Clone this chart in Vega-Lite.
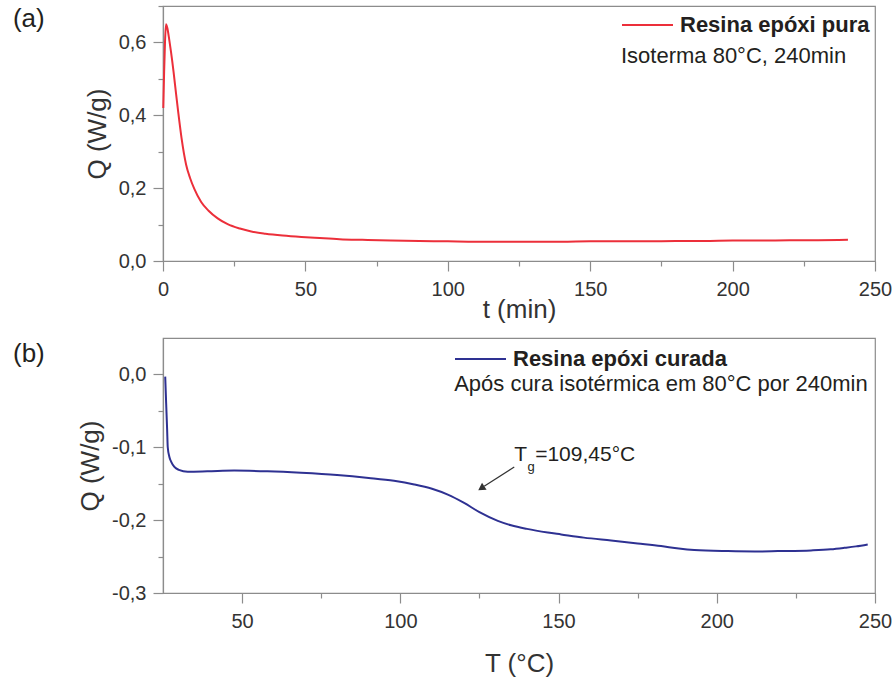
{
  "$schema": "https://vega.github.io/schema/vega-lite/v6.json",
  "background": "white",
  "padding": {"left": 12, "top": -5, "right": 5, "bottom": 5},
  "spacing": 8,
  "config": {
    "font": "Liberation Sans",
    "view": {"stroke": "#8c8c8c", "strokeWidth": 1.2},
    "axis": {
      "grid": false,
      "domainColor": "#8c8c8c",
      "domainWidth": 1.2,
      "tickColor": "#8c8c8c",
      "tickWidth": 1.2,
      "labelFont": "Liberation Sans",
      "titleFont": "Liberation Sans",
      "labelFontSize": 20,
      "titleFontSize": 26,
      "titleFontWeight": "normal",
      "labelColor": "#333333",
      "titleColor": "#333333",
      "labelFlush": false,
      "labelOverlap": false
    },
    "text": {"font": "Liberation Sans", "color": "#231f20"}
  },
  "resolve": {"scale": {"color": "independent"}, "legend": {"color": "independent"}},
  "datasets": {
    "isoterma": [
      {"t": 0.1, "Q": 0.42, "serie": "Resina epóxi pura"},
      {"t": 0.4, "Q": 0.52, "serie": "Resina epóxi pura"},
      {"t": 0.7, "Q": 0.6, "serie": "Resina epóxi pura"},
      {"t": 1.05, "Q": 0.65, "serie": "Resina epóxi pura"},
      {"t": 1.5, "Q": 0.64, "serie": "Resina epóxi pura"},
      {"t": 2.2, "Q": 0.607, "serie": "Resina epóxi pura"},
      {"t": 2.8, "Q": 0.575, "serie": "Resina epóxi pura"},
      {"t": 3.7, "Q": 0.52, "serie": "Resina epóxi pura"},
      {"t": 4.6, "Q": 0.458, "serie": "Resina epóxi pura"},
      {"t": 5.4, "Q": 0.405, "serie": "Resina epóxi pura"},
      {"t": 6.5, "Q": 0.338, "serie": "Resina epóxi pura"},
      {"t": 8.1, "Q": 0.265, "serie": "Resina epóxi pura"},
      {"t": 9.5, "Q": 0.228, "serie": "Resina epóxi pura"},
      {"t": 11, "Q": 0.198, "serie": "Resina epóxi pura"},
      {"t": 13.4, "Q": 0.162, "serie": "Resina epóxi pura"},
      {"t": 16, "Q": 0.138, "serie": "Resina epóxi pura"},
      {"t": 19.2, "Q": 0.117, "serie": "Resina epóxi pura"},
      {"t": 22.7, "Q": 0.101, "serie": "Resina epóxi pura"},
      {"t": 27, "Q": 0.089, "serie": "Resina epóxi pura"},
      {"t": 31, "Q": 0.081, "serie": "Resina epóxi pura"},
      {"t": 36, "Q": 0.075, "serie": "Resina epóxi pura"},
      {"t": 42, "Q": 0.07, "serie": "Resina epóxi pura"},
      {"t": 48.6, "Q": 0.066, "serie": "Resina epóxi pura"},
      {"t": 55, "Q": 0.063, "serie": "Resina epóxi pura"},
      {"t": 62, "Q": 0.06, "serie": "Resina epóxi pura"},
      {"t": 70, "Q": 0.058, "serie": "Resina epóxi pura"},
      {"t": 80, "Q": 0.056, "serie": "Resina epóxi pura"},
      {"t": 90, "Q": 0.055, "serie": "Resina epóxi pura"},
      {"t": 100, "Q": 0.054, "serie": "Resina epóxi pura"},
      {"t": 110, "Q": 0.053, "serie": "Resina epóxi pura"},
      {"t": 120, "Q": 0.053, "serie": "Resina epóxi pura"},
      {"t": 130, "Q": 0.053, "serie": "Resina epóxi pura"},
      {"t": 140, "Q": 0.053, "serie": "Resina epóxi pura"},
      {"t": 150, "Q": 0.054, "serie": "Resina epóxi pura"},
      {"t": 160, "Q": 0.054, "serie": "Resina epóxi pura"},
      {"t": 170, "Q": 0.054, "serie": "Resina epóxi pura"},
      {"t": 180, "Q": 0.055, "serie": "Resina epóxi pura"},
      {"t": 190, "Q": 0.055, "serie": "Resina epóxi pura"},
      {"t": 200, "Q": 0.056, "serie": "Resina epóxi pura"},
      {"t": 210, "Q": 0.056, "serie": "Resina epóxi pura"},
      {"t": 220, "Q": 0.057, "serie": "Resina epóxi pura"},
      {"t": 230, "Q": 0.057, "serie": "Resina epóxi pura"},
      {"t": 240.5, "Q": 0.058, "serie": "Resina epóxi pura"}
    ],
    "curada": [
      {"T": 25.7, "Q": -0.003, "serie": "Resina epóxi curada"},
      {"T": 26.0, "Q": -0.04, "serie": "Resina epóxi curada"},
      {"T": 26.3, "Q": -0.075, "serie": "Resina epóxi curada"},
      {"T": 26.5, "Q": -0.1, "serie": "Resina epóxi curada"},
      {"T": 27.0, "Q": -0.113, "serie": "Resina epóxi curada"},
      {"T": 27.6, "Q": -0.12, "serie": "Resina epóxi curada"},
      {"T": 28.6, "Q": -0.127, "serie": "Resina epóxi curada"},
      {"T": 30.0, "Q": -0.131, "serie": "Resina epóxi curada"},
      {"T": 32.8, "Q": -0.1335, "serie": "Resina epóxi curada"},
      {"T": 39, "Q": -0.133, "serie": "Resina epóxi curada"},
      {"T": 47.5, "Q": -0.132, "serie": "Resina epóxi curada"},
      {"T": 58, "Q": -0.133, "serie": "Resina epóxi curada"},
      {"T": 68.6, "Q": -0.135, "serie": "Resina epóxi curada"},
      {"T": 80, "Q": -0.138, "serie": "Resina epóxi curada"},
      {"T": 90, "Q": -0.142, "serie": "Resina epóxi curada"},
      {"T": 98, "Q": -0.146, "serie": "Resina epóxi curada"},
      {"T": 104.4, "Q": -0.151, "serie": "Resina epóxi curada"},
      {"T": 110, "Q": -0.157, "serie": "Resina epóxi curada"},
      {"T": 115, "Q": -0.165, "serie": "Resina epóxi curada"},
      {"T": 120, "Q": -0.176, "serie": "Resina epóxi curada"},
      {"T": 125, "Q": -0.189, "serie": "Resina epóxi curada"},
      {"T": 130.8, "Q": -0.201, "serie": "Resina epóxi curada"},
      {"T": 135, "Q": -0.207, "serie": "Resina epóxi curada"},
      {"T": 140, "Q": -0.212, "serie": "Resina epóxi curada"},
      {"T": 146.6, "Q": -0.217, "serie": "Resina epóxi curada"},
      {"T": 150.8, "Q": -0.2196, "serie": "Resina epóxi curada"},
      {"T": 158, "Q": -0.224, "serie": "Resina epóxi curada"},
      {"T": 166.6, "Q": -0.228, "serie": "Resina epóxi curada"},
      {"T": 175, "Q": -0.232, "serie": "Resina epóxi curada"},
      {"T": 182.4, "Q": -0.2356, "serie": "Resina epóxi curada"},
      {"T": 188, "Q": -0.239, "serie": "Resina epóxi curada"},
      {"T": 192.9, "Q": -0.241, "serie": "Resina epóxi curada"},
      {"T": 203.5, "Q": -0.2425, "serie": "Resina epóxi curada"},
      {"T": 212, "Q": -0.243, "serie": "Resina epóxi curada"},
      {"T": 219.3, "Q": -0.2425, "serie": "Resina epóxi curada"},
      {"T": 229.8, "Q": -0.2415, "serie": "Resina epóxi curada"},
      {"T": 236, "Q": -0.24, "serie": "Resina epóxi curada"},
      {"T": 240.3, "Q": -0.238, "serie": "Resina epóxi curada"},
      {"T": 244, "Q": -0.236, "serie": "Resina epóxi curada"},
      {"T": 247.7, "Q": -0.2333, "serie": "Resina epóxi curada"}
    ]
  },
  "vconcat": [
    {
      "width": 712,
      "height": 255,
      "encoding": {
        "x": {
          "field": "t", "type": "quantitative",
          "scale": {"domain": [0, 250], "nice": false, "zero": false},
          "axis": {
            "title": "t (min)",
            "values": [0, 25, 50, 75, 100, 125, 150, 175, 200, 225, 250],
            "labelExpr": "datum.value % 50 === 0 ? datum.label : ''",
            "tickSize": {"condition": {"test": "datum.value % 50 === 0", "value": 10}, "value": 5},
            "labelPadding": 8,
            "titlePadding": -3
          }
        },
        "y": {
          "field": "Q", "type": "quantitative",
          "scale": {"domain": [0, 0.7], "nice": false, "zero": false},
          "axis": {
            "title": "Q (W/g)",
            "values": [0, 0.1, 0.2, 0.3, 0.4, 0.5, 0.6, 0.7],
            "labelExpr": "round(datum.value * 10) % 2 === 0 && datum.value < 0.65 ? replace(format(datum.value, '.1f'), '.', ',') : ''",
            "tickSize": {"condition": {"test": "round(datum.value * 10) % 2 === 0", "value": 10}, "value": 5},
            "labelPadding": 7,
            "titlePadding": 8
          }
        }
      },
      "layer": [
        {
          "data": {"name": "isoterma"},
          "mark": {"type": "line", "strokeWidth": 2, "interpolate": "monotone"},
          "encoding": {
            "color": {
              "field": "serie", "type": "nominal",
              "scale": {"domain": ["Resina epóxi pura"], "range": ["#ec2f3a"]},
              "legend": {
                "title": null, "orient": "none", "legendX": 458, "legendY": -7.5,
                "symbolType": "stroke", "symbolSize": 2600, "symbolStrokeWidth": 2,
                "labelFontSize": 22, "labelFontWeight": "bold", "labelColor": "#231f20",
                "labelFont": "Liberation Sans",
                "labelOffset": 6, "labelLimit": 600, "padding": 0
              }
            }
          }
        },
        {
          "data": {"values": [{"t": 160.8, "Q": 0.5435, "texto": "Isoterma 80°C, 240min"}]},
          "mark": {"type": "text", "fontSize": 22, "align": "left", "baseline": "alphabetic"},
          "encoding": {"text": {"field": "texto"}}
        },
        {
          "data": {"values": [{"t": -52.7, "Q": 0.663, "texto": "(a)"}]},
          "mark": {"type": "text", "fontSize": 26, "align": "left", "baseline": "middle"},
          "encoding": {"text": {"field": "texto"}}
        }
      ]
    },
    {
      "width": 712,
      "height": 255,
      "encoding": {
        "x": {
          "field": "T", "type": "quantitative",
          "scale": {"domain": [25, 250], "nice": false, "zero": false},
          "axis": {
            "title": "T (°C)",
            "values": [50, 75, 100, 125, 150, 175, 200, 225, 250],
            "labelExpr": "datum.value % 50 === 0 ? datum.label : ''",
            "tickSize": {"condition": {"test": "datum.value % 50 === 0", "value": 10}, "value": 5},
            "labelPadding": 8,
            "titlePadding": 19
          }
        },
        "y": {
          "field": "Q", "type": "quantitative",
          "scale": {"domain": [-0.3, 0.05], "nice": false, "zero": false},
          "axis": {
            "title": "Q (W/g)",
            "values": [-0.3, -0.25, -0.2, -0.15, -0.1, -0.05, 0],
            "labelExpr": "round(abs(datum.value) * 100) % 10 === 0 ? (datum.value < -0.001 ? '-' : '') + replace(format(abs(datum.value), '.1f'), '.', ',') : ''",
            "tickSize": {"condition": {"test": "round(abs(datum.value) * 100) % 10 === 0", "value": 10}, "value": 5},
            "labelPadding": 7,
            "titlePadding": 8
          }
        }
      },
      "layer": [
        {
          "data": {"name": "curada"},
          "mark": {"type": "line", "strokeWidth": 2, "interpolate": "monotone"},
          "encoding": {
            "color": {
              "field": "serie", "type": "nominal",
              "scale": {"domain": ["Resina epóxi curada"], "range": ["#2e3192"]},
              "legend": {
                "title": null, "orient": "none", "legendX": 291, "legendY": -5.5,
                "symbolType": "stroke", "symbolSize": 2600, "symbolStrokeWidth": 2,
                "labelFontSize": 22, "labelFontWeight": "bold", "labelColor": "#231f20",
                "labelFont": "Liberation Sans",
                "labelOffset": 6, "labelLimit": 600, "padding": 0
              }
            }
          }
        },
        {
          "data": {"values": [{"T": 117, "Q": -0.0233, "texto": "Após cura isotérmica em 80°C por 240min"}]},
          "mark": {"type": "text", "fontSize": 22, "align": "left", "baseline": "alphabetic"},
          "encoding": {"text": {"field": "texto"}}
        },
        {
          "data": {"values": [{"T": -22.4, "Q": 0.0274, "texto": "(b)"}]},
          "mark": {"type": "text", "fontSize": 26, "align": "left", "baseline": "middle"},
          "encoding": {"text": {"field": "texto"}}
        },
        {
          "data": {"values": [{"T": 136, "Q": -0.127, "T2": 126.5, "Q2": -0.1535}]},
          "mark": {"type": "rule", "color": "#333333", "strokeWidth": 1.2},
          "encoding": {"x2": {"field": "T2"}, "y2": {"field": "Q2"}}
        },
        {
          "data": {"values": [{"T": 125.9, "Q": -0.1552}]},
          "mark": {"type": "point", "shape": "triangle", "angle": 237, "size": 70, "filled": true, "color": "#333333", "opacity": 1},
          "encoding": {}
        },
        {
          "data": {"values": [{"T": 136, "Q": -0.119, "texto": "T"}, {"T": 142.6, "Q": -0.119, "texto": "=109,45°C"}]},
          "mark": {"type": "text", "fontSize": 21, "align": "left", "baseline": "alphabetic"},
          "encoding": {"text": {"field": "texto"}}
        },
        {
          "data": {"values": [{"T": 140.2, "Q": -0.1329, "texto": "g"}]},
          "mark": {"type": "text", "fontSize": 13, "align": "left", "baseline": "alphabetic"},
          "encoding": {"text": {"field": "texto"}}
        }
      ]
    }
  ]
}
